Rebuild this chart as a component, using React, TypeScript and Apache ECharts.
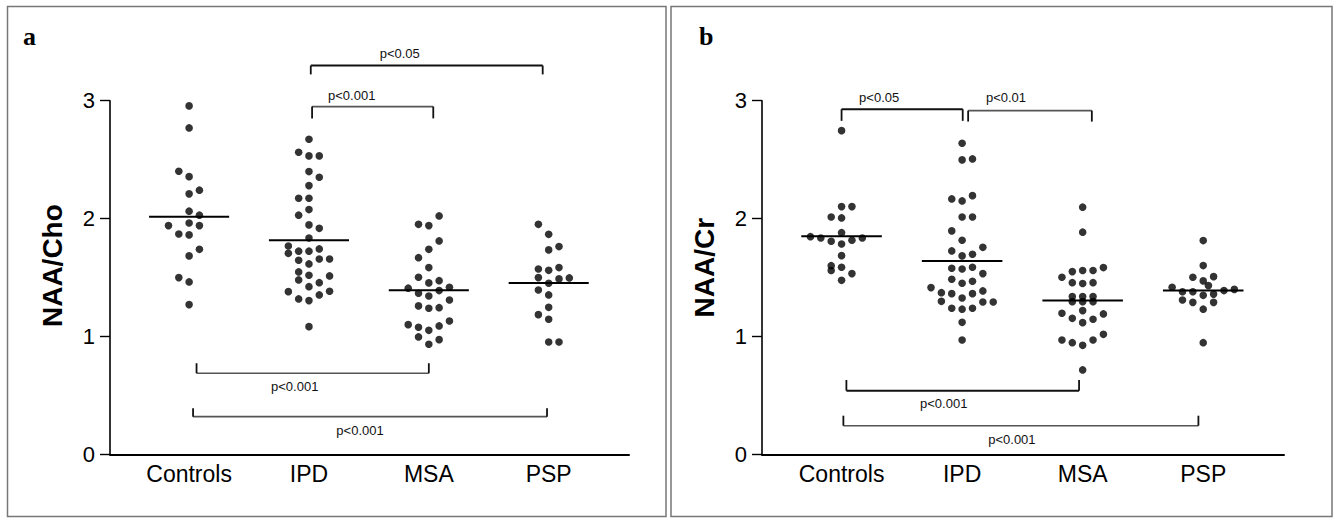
import React, { useEffect, useRef } from "react";
import * as echarts from "echarts";

// ---------- data ----------
const categories = ["Controls", "IPD", "MSA", "PSP"];
const yTickValues = [0, 1, 2, 3];

// Panel a: NAA/Cho (values) and swarm column of each dot
const choControls = [2.956, 2.769, 2.402, 2.356, 2.241, 2.21, 2.063, 2.029, 1.963, 1.941, 1.941, 1.87, 1.862, 1.74, 1.684, 1.5, 1.463, 1.271];
const choControlsCol = [0, 0, -1, 0, 1, 0, 0, 1, 0, -2, 1, -1, 0, 1, 0, -1, 0, 0];
const choIPD = [2.673, 2.563, 2.532, 2.532, 2.399, 2.351, 2.28, 2.173, 2.173, 2.077, 2.029, 1.947, 1.918, 1.836, 1.768, 1.743, 1.724, 1.724, 1.706, 1.658, 1.658, 1.647, 1.616, 1.548, 1.52, 1.514, 1.48, 1.457, 1.423, 1.381, 1.384, 1.353, 1.319, 1.305, 1.084];
const choIPDCol = [0, -1, 0, 1, 0, 1, 0, -1, 0, 0, -1, 0, 1, 0, -2, 1, -1, 0, -2, 1, 2, -1, 0, -1, 0, 2, -1, 1, 0, -2, 2, 1, -1, 0, 0];
const choMSA = [2.023, 1.952, 1.941, 1.811, 1.74, 1.669, 1.585, 1.503, 1.455, 1.474, 1.41, 1.418, 1.39, 1.367, 1.344, 1.31, 1.26, 1.24, 1.245, 1.101, 1.079, 1.09, 1.132, 1.053, 0.997, 0.974, 0.935];
const choMSACol = [1, -1, 0, 1, 0, -1, 0, -1, 0, 1, -2, 2, 1, -1, 0, 2, -1, 0, 1, -2, -1, 1, 2, 0, -1, 1, 0];
const choPSP = [1.952, 1.867, 1.763, 1.735, 1.585, 1.573, 1.562, 1.5, 1.489, 1.497, 1.452, 1.395, 1.353, 1.248, 1.186, 1.147, 0.954, 0.954];
const choPSPCol = [-1, 0, 1, 0, 1, -1, 0, -1, 1, 2, 0, -1, 0, 0, -1, 0, 0, 1];
const choMeans = [2.017, 1.817, 1.393, 1.455];

// Panel b: NAA/Cr
const crControls = [2.746, 2.102, 2.102, 2.014, 2.006, 1.881, 1.847, 1.836, 1.808, 1.785, 1.817, 1.836, 1.686, 1.601, 1.56, 1.588, 1.534, 1.477];
const crControlsCol = [0, 0, 1, -1, 0, 0, -3, -2, -1, 0, 1, 2, 0, -1, -1, 0, 1, 0];
const crIPD = [2.639, 2.498, 2.506, 2.167, 2.15, 2.195, 2.014, 2.014, 1.896, 1.817, 1.726, 1.684, 1.698, 1.757, 1.579, 1.573, 1.588, 1.534, 1.486, 1.452, 1.469, 1.415, 1.372, 1.364, 1.364, 1.387, 1.327, 1.299, 1.293, 1.293, 1.232, 1.24, 1.24, 1.121, 0.971];
const crIPDCol = [0, 0, 1, -1, 0, 1, 0, 1, -1, 0, -1, 0, 1, 2, -1, 0, 1, 2, -1, 0, 1, -3, -2, -1, 1, 2, 0, -2, 2, 3, 0, -1, 1, 0, 0];
const crMSA = [2.097, 1.885, 1.551, 1.56, 1.56, 1.585, 1.503, 1.457, 1.45, 1.457, 1.339, 1.339, 1.339, 1.296, 1.296, 1.296, 1.198, 1.155, 1.22, 1.118, 1.147, 1.192, 0.971, 0.948, 0.926, 0.971, 1.019, 0.717];
const crMSACol = [0, 0, -1, 0, 1, 2, -2, -1, 0, 1, -1, 0, 1, -1, 0, 1, -2, -1, 0, 0, 1, 2, -2, -1, 0, 1, 2, 0];
const crPSP = [1.814, 1.602, 1.503, 1.472, 1.508, 1.432, 1.418, 1.38, 1.38, 1.35, 1.36, 1.39, 1.4, 1.31, 1.29, 1.29, 1.232, 0.948];
const crPSPCol = [0, 0, -1, 0, 1, 0.5, -3, -2, -1, 0, 1, 2, 3, -2, -1, 1, 0, 0];
const crMeans = [1.851, 1.641, 1.305, 1.39];

// significance brackets: [from, to] in category units, level & tick end in y units
const choBracketLabels = ["p<0.05", "p<0.001", "p<0.001", "p<0.001"];
const choBracketEnds = [[1.015, 2.95], [1.026, 2.037], [0.062, 2.0], [0.033, 2.986]];
const choBracketLevels = [[3.298, 3.223], [2.95, 2.85], [0.689, 0.774], [0.321, 0.392]];
const crBracketLabels = ["p<0.05", "p<0.01", "p<0.001", "p<0.001"];
const crBracketEnds = [[0.0, 1.005], [1.05, 2.076], [0.04, 1.97], [0.015, 2.96]];
const crBracketLevels = [[2.928, 2.829], [2.916, 2.823], [0.541, 0.632], [0.244, 0.329]];

// ---------- layout / style ----------
const COL_W = 0.086;
const MEAN_HALF = 0.334;
const X_MIN = -0.66;
const X_MAX = 3.67;
const FONT = "'Liberation Sans', Arial, Helvetica, sans-serif";
// per-bracket label offsets (px) and tone
const choBracketStyle = [
  { dx: -27, dy: -12, light: false },
  { dx: -21, dy: -11, light: true },
  { dx: -18, dy: 13, light: true },
  { dx: -10, dy: 14, light: true },
];
const crBracketStyle = [
  { dx: -23, dy: -12, light: false },
  { dx: -24, dy: -13, light: true },
  { dx: -19, dy: 13, light: false },
  { dx: -9, dy: 14, light: true },
];

function swarm(groups: number[][], cols: number[][]) {
  const out: number[][] = [];
  groups.forEach((vals, gi) => {
    vals.forEach((v, k) => out.push([gi + cols[gi][k] * COL_W, v]));
  });
  return out;
}

function panelSeries(idx: number, groups: number[][], cols: number[][], means: number[], ends: number[][], levels: number[][], labels: string[], styles: any[]) {
  return [
    {
      type: "scatter",
      xAxisIndex: idx,
      yAxisIndex: idx,
      data: swarm(groups, cols),
      symbol: "circle",
      symbolSize: 7.6,
      itemStyle: { color: "#000" },
      clip: false,
      silent: true,
      z: 3,
    },
    {
      type: "custom",
      xAxisIndex: idx,
      yAxisIndex: idx,
      data: means.map((m, i) => [i, m]),
      clip: false,
      silent: true,
      z: 4,
      renderItem: (params: any, api: any) => {
        const x = api.value(0);
        const y = api.value(1);
        const p1 = api.coord([x - MEAN_HALF, y]);
        const p2 = api.coord([x + MEAN_HALF, y]);
        return {
          type: "line",
          shape: { x1: p1[0], y1: p1[1], x2: p2[0], y2: p2[1] },
          style: { stroke: "#000", lineWidth: 2 },
        };
      },
    },
    {
      type: "custom",
      xAxisIndex: idx,
      yAxisIndex: idx,
      data: ends.map((e, i) => [e[0], e[1], levels[i][0], levels[i][1]]),
      encode: { x: [0, 1], y: [2, 3] },
      clip: false,
      silent: true,
      z: 2,
      renderItem: (params: any, api: any) => {
        const i = params.dataIndex;
        const st = styles[i];
        const x1 = api.value(0), x2 = api.value(1), lv = api.value(2), tk = api.value(3);
        const pL = api.coord([x1, lv]);
        const pR = api.coord([x2, lv]);
        const tL = api.coord([x1, tk]);
        const tR = api.coord([x2, tk]);
        const stroke = st.light ? "#555" : "#111";
        return {
          type: "group",
          children: [
            {
              type: "line",
              shape: { x1: pL[0], y1: pL[1], x2: pR[0], y2: pR[1] },
              style: { stroke, lineWidth: st.light ? 1.6 : 2 },
            },
            {
              type: "line",
              shape: { x1: tL[0], y1: tL[1], x2: pL[0], y2: pL[1] },
              style: { stroke: "#111", lineWidth: 1.8 },
            },
            {
              type: "line",
              shape: { x1: tR[0], y1: tR[1], x2: pR[0], y2: pR[1] },
              style: { stroke: "#111", lineWidth: 1.8 },
            },
            {
              type: "text",
              x: (pL[0] + pR[0]) / 2 + st.dx,
              y: pL[1] + st.dy,
              style: {
                text: labels[i],
                fontSize: 13,
                fontFamily: FONT,
                fill: "#111",
                align: "center",
                verticalAlign: "middle",
              },
            },
          ],
        };
      },
    },
  ];
}

function xAxisDef(idx: number) {
  return {
    type: "value",
    gridIndex: idx,
    min: X_MIN,
    max: X_MAX,
    splitLine: { show: false },
    axisTick: { show: false },
    axisLine: { show: true, onZero: false, lineStyle: { color: "#000", width: 2 } },
    axisLabel: {
      show: true,
      customValues: [0, 1, 2, 3],
      formatter: (v: number) => categories[Math.round(v)] ?? "",
      fontSize: 23,
      fontFamily: FONT,
      color: "#000",
      margin: 8,
    },
  };
}

function yAxisDef(idx: number, name: string, pad: number) {
  return {
    type: "value",
    gridIndex: idx,
    min: 0,
    max: 3,
    interval: 1,
    name,
    nameLocation: "middle",
    nameGap: 44,
    nameTextStyle: {
      fontSize: 28,
      fontWeight: "bold",
      fontFamily: FONT,
      color: "#000",
      padding: [0, 0, 0, pad],
    },
    splitLine: { show: false },
    axisLine: { show: true, onZero: false, lineStyle: { color: "#000", width: 1.6 } },
    axisTick: { show: true, length: 10, lineStyle: { color: "#000", width: 1.4 } },
    axisLabel: {
      fontSize: 22,
      fontFamily: FONT,
      color: "#000",
      margin: 15,
      formatter: (v: number) => (yTickValues.includes(v) ? String(v) : ""),
    },
  };
}

export default function App() {
  const ref = useRef<HTMLDivElement>(null);
  useEffect(() => {
    document.body.style.margin = "0";
    if (!ref.current) return;
    const chart = echarts.init(ref.current, undefined, { renderer: "svg" });
    const option: any = {
      animation: false,
      backgroundColor: "#fff",
      grid: [
        { left: 110, top: 100.7, width: 519, height: 353.8 },
        { left: 762, top: 100.7, width: 522, height: 353.8 },
      ],
      xAxis: [xAxisDef(0), xAxisDef(1)],
      yAxis: [yAxisDef(0, "NAA/Cho", 24), yAxisDef(1, "NAA/Cr", 20)],
      graphic: [
        {
          type: "rect",
          shape: { x: 7.5, y: 6.5, width: 658.5, height: 510 },
          style: { fill: "none", stroke: "#777", lineWidth: 1.5 },
          silent: true,
        },
        {
          type: "rect",
          shape: { x: 671, y: 6.5, width: 661, height: 510 },
          style: { fill: "none", stroke: "#777", lineWidth: 1.5 },
          silent: true,
        },
        {
          type: "text",
          x: 23,
          y: 36,
          style: { text: "a", fontSize: 26, fontWeight: "bold", fontFamily: "'Liberation Serif', 'Times New Roman', serif", fill: "#000", verticalAlign: "middle" },
        },
        {
          type: "text",
          x: 699,
          y: 36,
          style: { text: "b", fontSize: 26, fontWeight: "bold", fontFamily: "'Liberation Serif', 'Times New Roman', serif", fill: "#000", verticalAlign: "middle" },
        },
      ],
      series: [
        ...panelSeries(0, [choControls, choIPD, choMSA, choPSP], [choControlsCol, choIPDCol, choMSACol, choPSPCol], choMeans, choBracketEnds, choBracketLevels, choBracketLabels, choBracketStyle),
        ...panelSeries(1, [crControls, crIPD, crMSA, crPSP], [crControlsCol, crIPDCol, crMSACol, crPSPCol], crMeans, crBracketEnds, crBracketLevels, crBracketLabels, crBracketStyle),
      ],
    };
    chart.setOption(option);
    return () => chart.dispose();
  }, []);
  return <div ref={ref} style={{ width: 1336, height: 520 }} />;
}
